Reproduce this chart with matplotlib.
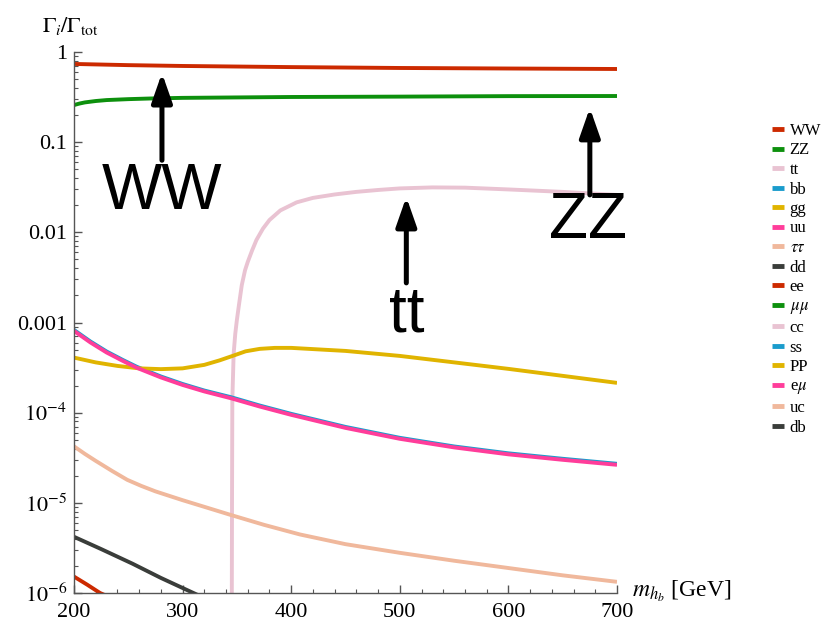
import matplotlib
matplotlib.use("Agg")
import matplotlib.pyplot as plt
from matplotlib.ticker import MultipleLocator, FixedLocator, LogLocator, NullFormatter

plt.rcParams['font.family'] = 'serif'
plt.rcParams['font.serif'] = ['Liberation Serif', 'DejaVu Serif']
plt.rcParams['mathtext.fontset'] = 'stix'

# channel names (legend order)
names = ['WW', 'ZZ', 'tt', 'bb', 'gg', 'uu', r'$\tau\tau$', 'dd',
         'ee', r'$\mu\mu$', 'cc', 'ss', 'PP', r'e$\mu$', 'uc', 'db']
colors = ['#cc2a00', '#0d900d', '#e9c3d2', '#1a9ccc', '#e0b400', '#ff3d9a', '#f0b89c', '#3a3d3a',
          '#cc2a00', '#0d900d', '#e9c3d2', '#1a9ccc', '#e0b400', '#ff3d9a', '#f0b89c', '#3a3d3a']

# branching ratios (mass in GeV)
m_ww = [200, 250, 300, 400, 500, 600, 700]
br_ww = [0.737, 0.715, 0.70, 0.68, 0.665, 0.656, 0.648]

m_zz = [200, 205, 210, 220, 230, 250, 270, 300, 400, 500, 600, 700]
br_zz = [0.258, 0.268, 0.276, 0.286, 0.293, 0.300, 0.305, 0.310, 0.317, 0.320, 0.324, 0.325]

m_tt = [345.3, 345.5, 345.8, 347, 348.5, 350, 352, 354.5, 357.5, 360, 364, 368, 374, 380,
        390, 405, 420, 440, 460, 480, 500, 530, 560, 600, 650, 700]
br_tt = [8e-7, 1e-5, 1.4e-4, 4.5e-4, 7.5e-4, 1.07e-3, 1.6e-3, 2.6e-3, 3.8e-3, 4.7e-3, 6.3e-3,
         8.23e-3, 1.10e-2, 1.37e-2, 1.75e-2, 2.15e-2, 2.41e-2, 2.63e-2, 2.81e-2, 2.95e-2, 3.07e-2,
         3.15e-2, 3.13e-2, 2.99e-2, 2.81e-2, 2.60e-2]

m_ff = [200, 215, 230, 245, 258, 280, 300, 320, 345, 371, 400, 450, 500, 550, 600, 650, 700]
br_uu = [8.07e-4, 6.02e-4, 4.65e-4, 3.75e-4, 3.14e-4, 2.46e-4, 2.03e-4, 1.72e-4, 1.44e-4,
         1.17e-4, 9.46e-5, 6.78e-5, 5.13e-5, 4.12e-5, 3.45e-5, 3.0e-5, 2.64e-5]
br_bb = [8.27e-4, 6.17e-4, 4.77e-4, 3.84e-4, 3.22e-4, 2.52e-4, 2.08e-4, 1.76e-4, 1.48e-4,
         1.20e-4, 9.7e-5, 6.95e-5, 5.26e-5, 4.22e-5, 3.54e-5, 3.08e-5, 2.71e-5]

m_gg = [200, 220, 240, 260, 280, 300, 320, 334, 346, 358, 371, 385, 400, 450, 500, 546, 600, 650, 700]
br_gg = [4.08e-4, 3.61e-4, 3.30e-4, 3.10e-4, 3.04e-4, 3.10e-4, 3.39e-4, 3.80e-4, 4.26e-4, 4.79e-4,
         5.10e-4, 5.23e-4, 5.23e-4, 4.84e-4, 4.26e-4, 3.66e-4, 3.06e-4, 2.56e-4, 2.14e-4]

m_tau = [200, 210, 220, 235, 249, 262, 275, 300, 320, 344, 375, 408, 450, 500, 550, 592, 650, 700]
br_tau = [4.23e-5, 3.49e-5, 2.92e-5, 2.26e-5, 1.80e-5, 1.54e-5, 1.34e-5, 1.07e-5, 9.03e-6,
          7.36e-6, 5.70e-6, 4.46e-6, 3.48e-6, 2.79e-6, 2.28e-6, 1.95e-6, 1.57e-6, 1.33e-6]

m_dd = [200, 225, 254, 280, 310, 320]
br_dd = [4.2e-6, 3.07e-6, 2.11e-6, 1.47e-6, 1.0e-6, 0.88e-6]

m_ee = [200, 212, 224, 230]
br_ee = [1.52e-6, 1.24e-6, 1.0e-6, 0.93e-6]

series = {
    'WW': (m_ww, br_ww), 'ZZ': (m_zz, br_zz), 'tt': (m_tt, br_tt),
    'bb': (m_ff, br_bb), 'gg': (m_gg, br_gg), 'uu': (m_ff, br_uu),
    r'$\tau\tau$': (m_tau, br_tau), 'dd': (m_dd, br_dd), 'ee': (m_ee, br_ee),
}

fig = plt.figure(figsize=(8.26, 6.21), dpi=100)
ax = fig.add_axes([74/826, 1 - 593/621, (617 - 74)/826, (593 - 52)/621])

for name, col in zip(names, colors):
    x, y = series.get(name, ([], []))
    ax.plot(x, y, color=col, lw=2.8, label=name, solid_capstyle='butt', solid_joinstyle='round')

ax.set_yscale('log')
ax.set_xlim(200, 700)
ax.set_ylim(1e-6, 1)

for s in ['top', 'right']:
    ax.spines[s].set_visible(False)
for s in ['left', 'bottom']:
    ax.spines[s].set_color('#555555')
    ax.spines[s].set_linewidth(1.0)

ax.xaxis.set_major_locator(FixedLocator([200, 300, 400, 500, 600, 700]))
ax.xaxis.set_minor_locator(MultipleLocator(20))
ax.yaxis.set_major_locator(FixedLocator([1e-6, 1e-5, 1e-4, 1e-3, 1e-2, 1e-1, 1]))
ax.yaxis.set_minor_locator(LogLocator(base=10, subs=range(2, 10), numticks=20))
ax.yaxis.set_minor_formatter(NullFormatter())
ax.set_yticklabels([r'$10^{-6}$', r'$10^{-5}$', r'$10^{-4}$', '0.001', '0.01', '0.1', '1'])

ax.tick_params(which='both', direction='in', color='#555555', labelsize=16)
ax.tick_params(which='major', length=6, width=1)
ax.tick_params(which='minor', length=3, width=0.8)
ax.tick_params(axis='x', pad=7)
ax.tick_params(axis='y', pad=5)

# axis labels, Mathematica style
fig.text(42/826, 1 - 26/621, r'$\Gamma_i/\Gamma_{\rm tot}$', fontsize=16, va='center', ha='left')
fig.text(632/826, 1 - 591/621, r'$m_{h_b}$ [GeV]', fontsize=17, va='center', ha='left')

# big labels with arrows
big = dict(fontsize=46, family='Liberation Sans', ha='center', va='center', color='black')
arr = dict(arrowstyle='-|>,head_length=0.8,head_width=0.28', lw=3.6, color='black',
           mutation_scale=22, shrinkA=0, shrinkB=0)
ax.annotate('', xy=(281, 0.585), xytext=(281, 0.063), arrowprops=arr)
ax.text(281, 0.028, 'WW', **big)
ax.annotate('', xy=(675, 0.24), xytext=(675, 0.026), arrowprops=arr)
ax.text(673, 0.0135, 'ZZ', **big)
ax.annotate('', xy=(506, 0.0247), xytext=(506, 2.75e-3), arrowprops=arr)
ax.text(506, 1.22e-3, 'tt', **big)

leg = fig.legend(loc='upper left', bbox_to_anchor=(772/826, 1 - 123/621), frameon=False,
                 fontsize=12, handlelength=0.7, handletextpad=0.35, labelspacing=0.21,
                 borderpad=0, borderaxespad=0)
for h in leg.get_lines():
    h.set_linewidth(3.5)

fig.savefig('out.png', dpi=100)
